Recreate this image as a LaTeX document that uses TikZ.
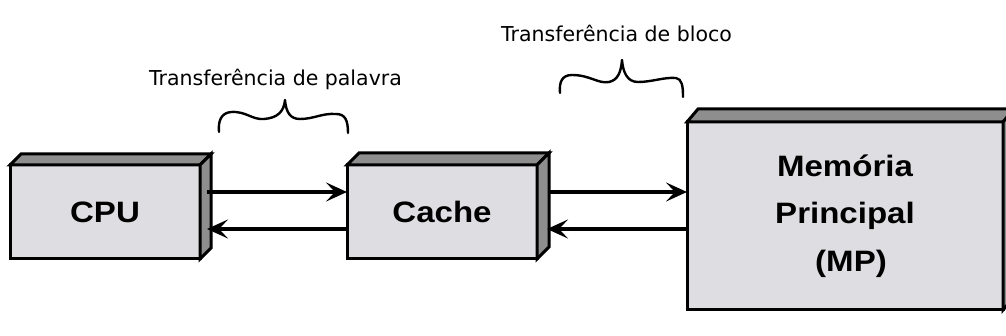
\documentclass[tikz,border=0pt]{standalone}
\usepackage{fontspec}
\usetikzlibrary{arrows.meta,calc}
\newfontfamily\boxfont{Liberation Sans}[FakeStretch=1.12]
\newfontfamily\notefont{DejaVu Sans}
\definecolor{frontgrey}{RGB}{222,221,225}
\definecolor{facegrey}{RGB}{142,142,142}

% top and right faces of a solid block whose front face is node #1,
% receding by (#2,#3) pixels to the right and upwards
\newcommand\blockfaces[3]{%
  \filldraw[blockface] (#1.north west) -- ++(#2,-#3)
      -- ($(#1.north east)+(#2pt,#3pt)$) -- (#1.north east) -- cycle;
  \filldraw[blockface] (#1.north east) -- ($(#1.north east)+(#2pt,#3pt)$)
      -- ($(#1.south east)+(#2pt,#3pt)$) -- (#1.south east) -- cycle;
}

\begin{document}
\begin{tikzpicture}[
  x=1pt, y=-1pt,
  unit/.style={draw=black, line width=3pt, fill=frontgrey, inner sep=0pt,
    outer sep=0pt, minimum width=190pt, minimum height=94pt, align=center,
    font=\boxfont\bfseries\fontsize{29.5}{47.5}\selectfont},
  blockface/.style={draw=black, line width=3pt, fill=facegrey, line join=miter},
  link/.style={line width=3.2pt, -{Stealth[length=21pt,width=19pt,inset=9pt]}},
  note/.style={font=\notefont\fontsize{20.5}{24}\selectfont, inner sep=0pt, anchor=base},
  bracestroke/.style={line width=2.4pt, line join=round, line cap=round}
]
\useasboundingbox (0,0) rectangle (1006,336);
\clip (0,0) rectangle (1006,336);
\fill[white] (0,0) rectangle (1006,336);

% the three blocks
\node[unit] (cpu) at (105,212) {CPU};
\blockfaces{cpu}{11}{11}
\node[unit] (cache) at (442,212) {Cache};
\blockfaces{cache}{12}{12}
\node[unit, minimum width=316pt, minimum height=188pt] (mp) at (845,216)
  {Mem\'oria\\Principal\\\hspace*{12pt}(MP)};
\blockfaces{mp}{11}{13}

% connection points on the side faces
\coordinate (cpuOutTop) at ([xshift=7pt,yshift=20pt]cpu.east);
\coordinate (cpuInBot)  at ([xshift=7pt,yshift=-17pt]cpu.east);
\coordinate (cacheOutTop) at ([xshift=12pt,yshift=20pt]cache.east);
\coordinate (cacheInBot)  at ([xshift=10pt,yshift=-17pt]cache.east);

% word transfers between CPU and cache
\draw[link] (cpuOutTop) -- (cpuOutTop -| cache.west);
\draw[link] (cpuInBot -| cache.west) -- (cpuInBot);
% block transfers between cache and main memory
\draw[link] (cacheOutTop) -- (cacheOutTop -| mp.west);
\draw[link] (cacheInBot -| mp.west) -- (cacheInBot);

% labels
\node[note] (wordlabel) at (275.5,86) {Transferência de palavra};
\node[note] (blocklabel) at (616.5,41.7) {Transferência de bloco};

% hand-drawn braces under the labels
\draw[bracestroke] (219,132) .. controls (218,121) and (221,113) .. (231,112)
  .. controls (246,111) and (252,120) .. (264,119)
  .. controls (277,118) and (284,112) .. (285,100)
  .. controls (286,112) and (290,119) .. (300,119)
  .. controls (314,119) and (322,113) .. (336,114)
  .. controls (345,114) and (348,120) .. (348,133);
\draw[bracestroke] (560,93) .. controls (559,82) and (562,75) .. (572,75)
  .. controls (590,75) and (598,84) .. (609,82)
  .. controls (618,80) and (621,72) .. (622,60)
  .. controls (623,72) and (627,82) .. (638,82)
  .. controls (652,82) and (664,77) .. (676,78)
  .. controls (682,79) and (683,86) .. (683,97);
\end{tikzpicture}
\end{document}
